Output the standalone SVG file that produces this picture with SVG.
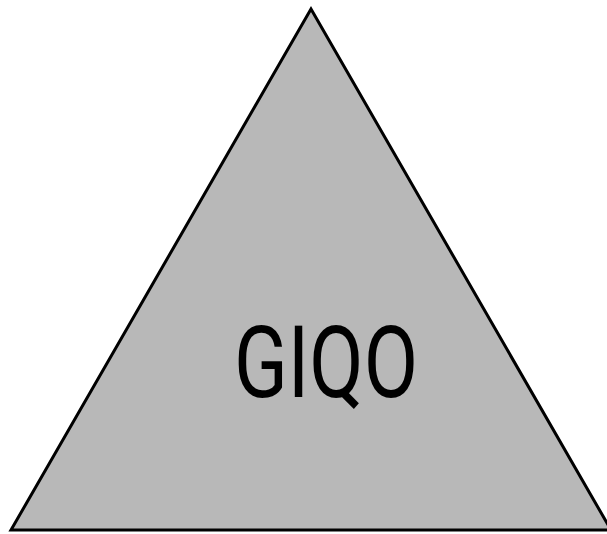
<svg xmlns="http://www.w3.org/2000/svg" width="607" height="534" viewBox="0 0 607 534">
<style>
.shape{fill:#b8b8b8;stroke:#000;stroke-width:3;stroke-linejoin:miter}
.label{font-family:Roboto,"Liberation Sans",sans-serif;font-size:100px;fill:#000}
</style>
<rect width="607" height="534" fill="#fff"/>
<g id="node-giqo">
<polygon class="shape" points="311,9 11,530 611,530"/>
<text class="label" x="326" y="397" text-anchor="middle" textLength="184" lengthAdjust="spacingAndGlyphs">GIQO</text>
</g>
<g id="connectors"/>
</svg>
